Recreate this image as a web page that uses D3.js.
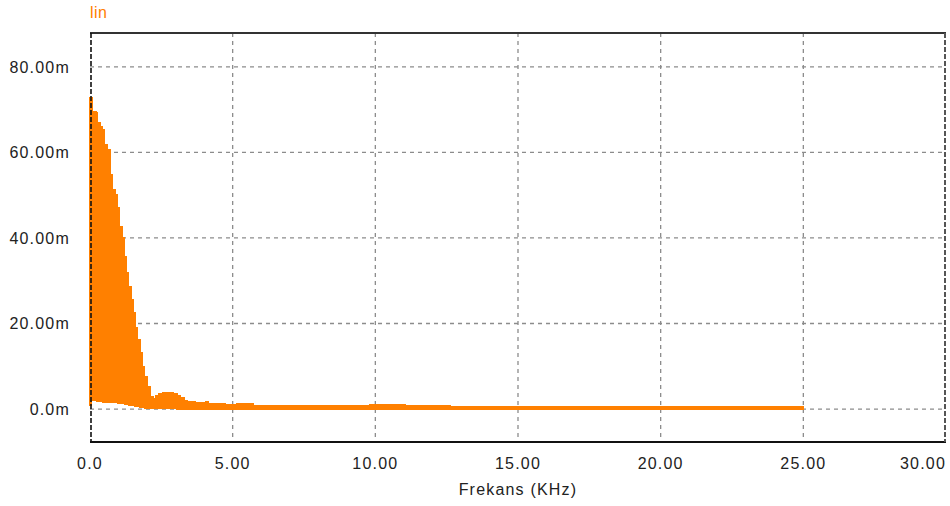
<!DOCTYPE html>
<html>
<head>
<meta charset="utf-8">
<script src="https://cdn.jsdelivr.net/npm/d3@7"></script>
<style>
  body { margin: 0; background: #fff; }
  text { font-family: "Liberation Sans", Arial, sans-serif; }
</style>
</head>
<body>
<div id="my_dataviz"></div>
<script>
// spectrum band: frequency (kHz), upper and lower envelope (m)
const freq = [0, 0.05, 0.09, 0.2, 0.25, 0.35, 0.4, 0.44, 0.51, 0.6, 0.65, 0.7, 0.79, 0.88, 0.96, 1.03, 1.12, 1.21, 1.28, 1.35, 1.44, 1.51, 1.58, 1.66, 1.75, 1.84, 1.91, 2.0, 2.1, 2.21, 2.31, 2.42, 2.56, 2.91, 3.05, 3.15, 3.29, 3.4, 3.68, 4.07, 4.14, 4.73, 4.98, 5.15, 5.61, 5.71, 7.36, 9.11, 9.81, 11.04, 12.62, 14.37, 15.77, 16.12, 25.0];
const upper = [72.7, 72.7, 69.5, 69.2, 66.9, 66.0, 66.0, 65.3, 61.8, 60.6, 60.6, 54.7, 51.2, 50.0, 47.0, 42.6, 40.0, 35.6, 31.8, 28.5, 25.5, 22.4, 18.9, 16.1, 13.1, 9.8, 7.5, 5.1, 2.8, 2.3, 3.0, 3.5, 3.7, 3.6, 3.2, 2.6, 2.0, 1.6, 1.4, 1.6, 1.3, 1.1, 0.9, 1.2, 1.2, 0.8, 0.7, 0.7, 0.9, 0.7, 0.6, 0.6, 0.6, 0.45, 0.45];
const lower = [0.8, 4.0, 2.0, 3.0, 1.8, 1.8, 2.7, 1.7, 1.7, 2.2, 1.6, 1.6, 1.5, 1.5, 1.4, 1.4, 1.3, 1.2, 1.1, 1.0, 0.9, 0.8, 0.7, 0.6, 0.5, 0.4, 0.3, 0.25, 0.2, 0.15, 0.1, 0.1, 0.1, 0.1, 0, 0, 0, 0, 0, 0, 0, 0, 0, 0, 0, 0, 0, 0, 0, 0, 0, 0, 0, -0.1, -0.1];

const xTicks = [0, 5, 10, 15, 20, 25, 30];
const yTicks = [0, 20, 40, 60, 80];
const seriesName = "lin";
const xTitle = "Frekans (KHz)";

document.addEventListener("DOMContentLoaded", function() {

    const W = 950, H = 506;
    const margin = {top: 33, right: 4, bottom: 64, left: 90};

    const svg = d3.select("#my_dataviz")
        .append("svg")
        .attr("width", W)
        .attr("height", H);

    const data = freq.map((f, i) => ({f: f, hi: upper[i], lo: lower[i]}));

    const xScale = d3.scaleLinear()
        .domain([0, 30])
        .range([margin.left, W - margin.right]);
    const yScale = d3.scaleLinear()
        .domain([-7.7, 87.9])
        .range([H - margin.bottom, margin.top]);

    const x0 = xScale.range()[0], x1 = xScale.range()[1];
    const yTop = yScale.range()[1], yBot = yScale.range()[0];

    // grid lines
    const grid = svg.append("g").attr("class", "grid");
    grid.selectAll("line.h")
        .data(yTicks)
        .enter().append("line")
        .attr("class", "h")
        .attr("x1", x0).attr("x2", x1)
        .attr("y1", d => yScale(d)).attr("y2", d => yScale(d))
        .attr("stroke", "#8c8c8c")
        .attr("stroke-width", 1.3)
        .attr("stroke-dasharray", "4,4");
    grid.selectAll("line.v")
        .data(xTicks.filter(d => d > 0 && d < 30))
        .enter().append("line")
        .attr("class", "v")
        .attr("x1", d => xScale(d)).attr("x2", d => xScale(d))
        .attr("y1", yTop).attr("y2", yBot)
        .attr("stroke", "#8c8c8c")
        .attr("stroke-width", 1.3)
        .attr("stroke-dasharray", "4,4");

    // the spectrum band
    const area = d3.area()
        .curve(d3.curveStepAfter)
        .x(d => xScale(d.f))
        .y0(d => yScale(d.lo))
        .y1(d => yScale(d.hi));

    svg.append("path")
        .datum(data)
        .attr("fill", "#ff8000")
        .attr("stroke", "#ff8000")
        .attr("stroke-width", 1.6)
        .attr("shape-rendering", "crispEdges")
        .attr("d", area);

    // frame
    svg.append("line")
        .attr("x1", x0).attr("x2", x1).attr("y1", yTop).attr("y2", yTop)
        .attr("stroke", "#333").attr("stroke-width", 2);
    svg.append("line")
        .attr("x1", x0).attr("x2", x1).attr("y1", yBot).attr("y2", yBot)
        .attr("stroke", "#111").attr("stroke-width", 2);
    svg.append("line")
        .attr("x1", x0 + 1).attr("x2", x0 + 1).attr("y1", yTop).attr("y2", yBot)
        .attr("stroke", "#111").attr("stroke-width", 1.6)
        .attr("stroke-dasharray", "5,2");
    svg.append("line")
        .attr("x1", x1 - 1).attr("x2", x1 - 1).attr("y1", yTop).attr("y2", yBot)
        .attr("stroke", "#555").attr("stroke-width", 2)
        .attr("stroke-dasharray", "5,2");

    // y tick labels
    svg.append("g")
        .selectAll("text")
        .data(yTicks)
        .enter().append("text")
        .attr("x", 70)
        .attr("y", d => yScale(d) + 6)
        .attr("text-anchor", "end")
        .attr("font-size", "16px")
        .attr("letter-spacing", "1.2px")
        .attr("fill", "#222")
        .text(d => d === 0 ? "0.0m" : d.toFixed(2) + "m");

    // x tick labels
    svg.append("g")
        .selectAll("text")
        .data(xTicks)
        .enter().append("text")
        .attr("x", d => d === 30 ? x1 : xScale(d))
        .attr("y", 469)
        .attr("text-anchor", d => d === 30 ? "end" : "middle")
        .attr("font-size", "16px")
        .attr("letter-spacing", "1.2px")
        .attr("fill", "#222")
        .text(d => d === 0 ? "0.0" : d.toFixed(2));

    // axis title
    svg.append("text")
        .attr("x", (x0 + x1) / 2)
        .attr("y", 495)
        .attr("text-anchor", "middle")
        .attr("font-size", "16px")
        .attr("letter-spacing", "1.2px")
        .attr("fill", "#222")
        .text(xTitle);

    // series name
    svg.append("text")
        .attr("x", x0)
        .attr("y", 18)
        .attr("font-size", "16px")
        .attr("letter-spacing", "0.5px")
        .attr("fill", "#ff8000")
        .text(seriesName);
});
</script>
</body>
</html>
